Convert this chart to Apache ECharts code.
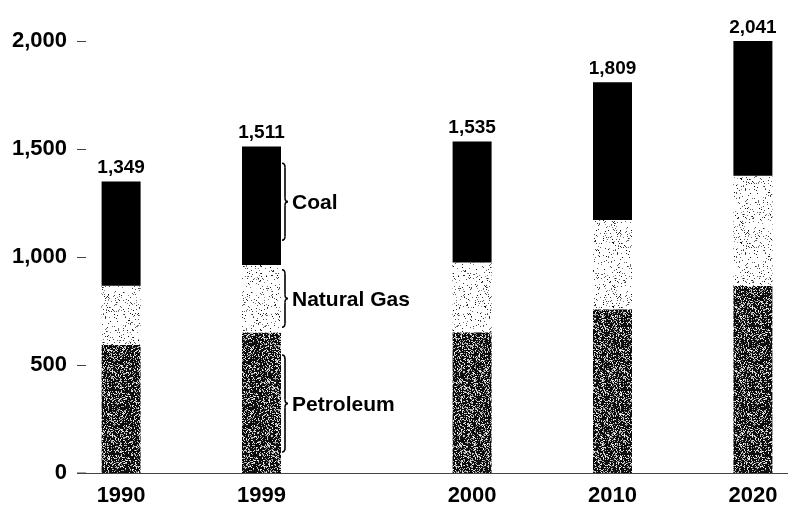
<!DOCTYPE html>
<html>
<head>
<meta charset="utf-8">
<script src="https://cdn.jsdelivr.net/npm/echarts@6/dist/echarts.min.js"></script>
<style>html,body{margin:0;padding:0;background:#fff;}#c{width:788px;height:512px;}</style>
</head>
<body>
<div id="c"></div>
<script>
// ---- data ----
const years = ['1990', '1999', '2000', '2010', '2020'];
const petroleum = [593, 650, 652, 758, 866];
const naturalGas = [274, 313, 323, 413, 510];
const coal = [482, 548, 560, 638, 665];
const totals = [1349, 1511, 1535, 1809, 2041];
const yTicks = [0, 500, 1000, 1500, 2000];
const annotations = ['Petroleum', 'Natural Gas', 'Coal'];

// ---- layout (slot index of each year on a 10-slot category axis) ----
const slotOf = [0, 2, 5, 7, 9];
const slotCount = 10;
const annotatedBar = 1; // the 1999 bar
const braceInset = [[0.15, 0.84], [0.08, 0.93], [0.21, 0.86]];

const FONT = "'Liberation Sans', Arial, sans-serif";

function noise(i, seed) {
  const x = Math.sin(i * 12.9898 + seed * 78.233) * 43758.5453;
  return x - Math.floor(x);
}
function makeTexture(kind) {
  const s = 64;
  const cv = document.createElement('canvas');
  cv.width = s; cv.height = s;
  const ctx = cv.getContext('2d');
  const img = ctx.createImageData(s, s);
  for (let i = 0; i < s * s; i++) {
    const r = noise(i, kind === 'dark' ? 1 : 2);
    const g = noise(i, 7);
    let v;
    if (kind === 'dark') {
      v = r < 0.33 ? Math.round(140 + g * 115) : Math.round(g * 25);
    } else {
      v = r < 0.09 ? Math.round(g * 150) : 255;
    }
    img.data[i * 4] = v; img.data[i * 4 + 1] = v; img.data[i * 4 + 2] = v; img.data[i * 4 + 3] = 255;
  }
  ctx.putImageData(img, 0, 0);
  return cv;
}
const darkTex = makeTexture('dark');
const lightTex = makeTexture('light');

function toSlots(arr) {
  const out = new Array(slotCount).fill('-');
  arr.forEach((v, i) => { out[slotOf[i]] = v; });
  return out;
}
const slotCats = [];
for (let k = 0; k < slotCount; k++) slotCats.push('s' + k);
const slotLabel = {};
slotOf.forEach((s, i) => { slotLabel['s' + s] = years[i]; });

const chart = echarts.init(document.getElementById('c'), null, { renderer: 'canvas' });
const barW = 39;
chart.setOption({
  animation: false,
  grid: { left: 86, right: -2, top: 41, bottom: 39, containLabel: false },
  xAxis: {
    type: 'category',
    data: slotCats,
    axisLine: { show: true, lineStyle: { color: '#444', width: 1 } },
    axisTick: { show: false },
    axisLabel: {
      interval: 0, margin: 12,
      formatter: v => slotLabel[v] || '',
      color: '#000', fontFamily: FONT, fontWeight: 'bold', fontSize: 22
    }
  },
  yAxis: {
    type: 'value', min: 0, max: 2000, interval: 500,
    axisLine: { show: false },
    axisTick: { show: true, length: 9, lineStyle: { color: '#444', width: 1 } },
    splitLine: { show: false },
    axisLabel: {
      margin: 19,
      formatter: v => yTicks.indexOf(v) >= 0 ? v.toLocaleString('en-US') : '',
      color: '#000', fontFamily: FONT, fontWeight: 'bold', fontSize: 22
    }
  },
  series: [
    { name: 'Petroleum', type: 'bar', stack: 'e', barWidth: barW, data: toSlots(petroleum),
      itemStyle: { color: { image: darkTex, repeat: 'repeat' } } },
    { name: 'Natural Gas', type: 'bar', stack: 'e', barWidth: barW, data: toSlots(naturalGas),
      itemStyle: { color: { image: lightTex, repeat: 'repeat' } } },
    { name: 'Coal', type: 'bar', stack: 'e', barWidth: barW, data: toSlots(coal),
      itemStyle: { color: '#000' },
      label: {
        show: true, position: 'top', distance: 4,
        formatter: p => { const i = slotOf.indexOf(p.dataIndex); return i >= 0 ? totals[i].toLocaleString('en-US') : ''; },
        color: '#000', fontFamily: FONT, fontWeight: 'bold', fontSize: 19
      } }
  ]
});

// ---- annotations: braces + labels next to the 1999 bar, plus axis line extension ----
const px = (slot, v) => chart.convertToPixel({ gridIndex: 0 }, [slot, v]);
const slot = slotOf[annotatedBar];
const segs = [
  [0, petroleum[annotatedBar]],
  [petroleum[annotatedBar], petroleum[annotatedBar] + naturalGas[annotatedBar]],
  [petroleum[annotatedBar] + naturalGas[annotatedBar], totals[annotatedBar]]
];
const graphics = [];
const braceStyle = { fill: null, stroke: '#000', lineWidth: 1.6 };
function curve(x1, y1, cx, cy, x2, y2) {
  graphics.push({ type: 'bezierCurve', shape: { x1, y1, x2, y2, cpx1: cx, cpy1: cy }, style: braceStyle });
}
function seg(x1, y1, x2, y2) {
  graphics.push({ type: 'line', shape: { x1, y1, x2, y2 }, style: braceStyle });
}
segs.forEach((sg, k) => {
  const lo = sg[0] + (sg[1] - sg[0]) * braceInset[k][0];
  const hi = sg[0] + (sg[1] - sg[0]) * braceInset[k][1];
  const pTop = px(slot, hi), pBot = px(slot, lo);
  const x0 = pTop[0] + barW / 2 + 1;
  const yT = pTop[1], yB = pBot[1], ym = (yT + yB) / 2;
  const xm = x0 + 3, xt = x0 + 6;
  curve(x0, yT, xm, yT, xm, yT + 4);
  seg(xm, yT + 4, xm, ym - 4);
  curve(xm, ym - 4, xm, ym, xt, ym);
  curve(xt, ym, xm, ym, xm, ym + 4);
  seg(xm, ym + 4, xm, yB - 4);
  curve(xm, yB - 4, xm, yB, x0, yB);
  graphics.push({ type: 'text', x: xt + 4, y: ym + 2,
    style: { text: annotations[k], fill: '#000', font: "bold 21px 'Liberation Sans', Arial, sans-serif", verticalAlign: 'middle', align: 'left' } });
});
const zero = px(0, 0);
graphics.push({ type: 'line', shape: { x1: 77, y1: zero[1], x2: 86, y2: zero[1] }, style: { stroke: '#444', lineWidth: 1 } });
chart.setOption({ graphic: graphics });
</script>
</body>
</html>
